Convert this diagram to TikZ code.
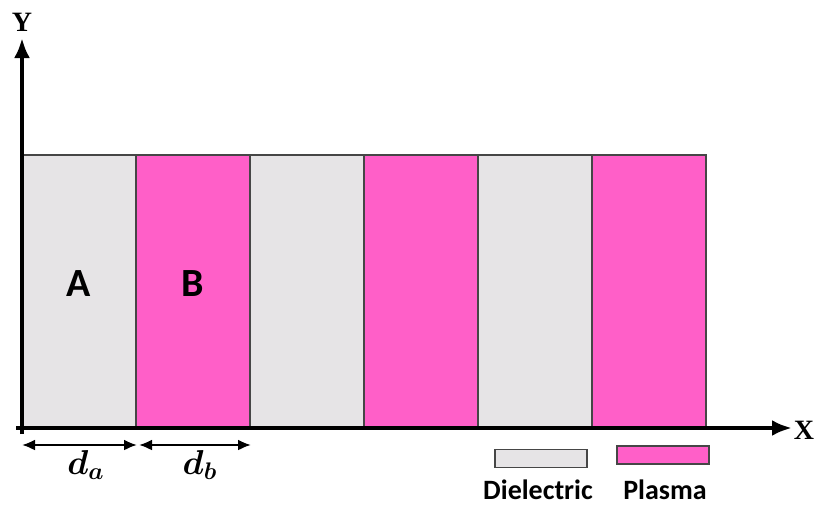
\documentclass[tikz,border=0pt]{standalone}
\usepackage{fontspec}
\setmainfont{Liberation Serif}
\newfontfamily\calib{Carlito}
\usepackage{amsmath}
\usepackage{bm}
\usetikzlibrary{arrows.meta}

\definecolor{dielgray}{RGB}{230,228,230}
\definecolor{plasmapink}{RGB}{255,95,200}
\definecolor{edgegray}{RGB}{70,70,70}

\begin{document}
\begin{tikzpicture}[x=0.5pt,y=-0.5pt,
  slab/.style={draw=edgegray,line width=0.7pt,minimum width=57pt,minimum height=136.5pt,inner sep=0pt,outer sep=0pt},
  axis/.style={line width=2.4pt,-{Latex[length=10pt,width=8pt]}},
  dim/.style={line width=1.1pt,{Latex[length=6.5pt,width=5.5pt]}-{Latex[length=6.5pt,width=5.5pt]}},
  key/.style={draw=edgegray,line width=0.8pt,minimum width=46pt,minimum height=9pt,inner sep=0pt}]
\useasboundingbox (0,0) rectangle (819,504);

% slabs
\foreach \i/\c in {1/dielgray,2/plasmapink,3/dielgray,4/plasmapink,5/dielgray,6/plasmapink}
  \node[slab,fill=\c] (L\i) at (22+114*\i-57,291.5) {};

\node[font=\calib\bfseries\fontsize{20}{20}\selectfont] (labA) at (L1.center |- 0,284) {A};
\node[font=\calib\bfseries\fontsize{20}{20}\selectfont] (labB) at (L2.center |- 0,284) {B};

% axes
\coordinate (O) at (22,428);
\coordinate (xstart) at (16,428);
\coordinate (xend) at (792,428);
\coordinate (ystart) at (22,434);
\coordinate (yend) at (22,38);
\draw[axis] (xstart) -- (xend);
\draw[axis] (ystart) -- (yend);
\node[font=\bfseries\fontsize{14}{14}\selectfont,inner sep=0pt] (xlab) at (804,430) {X};
\node[font=\bfseries\fontsize{14}{14}\selectfont,inner sep=0pt] (ylab) at (22,22) {Y};

% widths
\coordinate (da1) at (22,445);
\coordinate (da2) at (137,445);
\coordinate (db1) at (139,445);
\coordinate (db2) at (251,445);
\draw[dim] (da1) -- (da2);
\draw[dim] (db1) -- (db2);
\node[font=\fontsize{18}{18}\selectfont] (dalab) at (86,465) {$\bm{d_a}$};
\node[font=\fontsize{18}{18}\selectfont] (dblab) at (200,465) {$\bm{d_b}$};

% legend
\node[key,fill=dielgray] (kdiel) at (541,458.5) {};
\node[key,fill=plasmapink] (kplas) at (663,455) {};
\node[font=\calib\bfseries\fontsize{14}{14}\selectfont] (tdiel) at (538,490) {Dielectric};
\node[font=\calib\bfseries\fontsize{14}{14}\selectfont] (tplas) at (665,490) {Plasma};
\end{tikzpicture}
\end{document}
